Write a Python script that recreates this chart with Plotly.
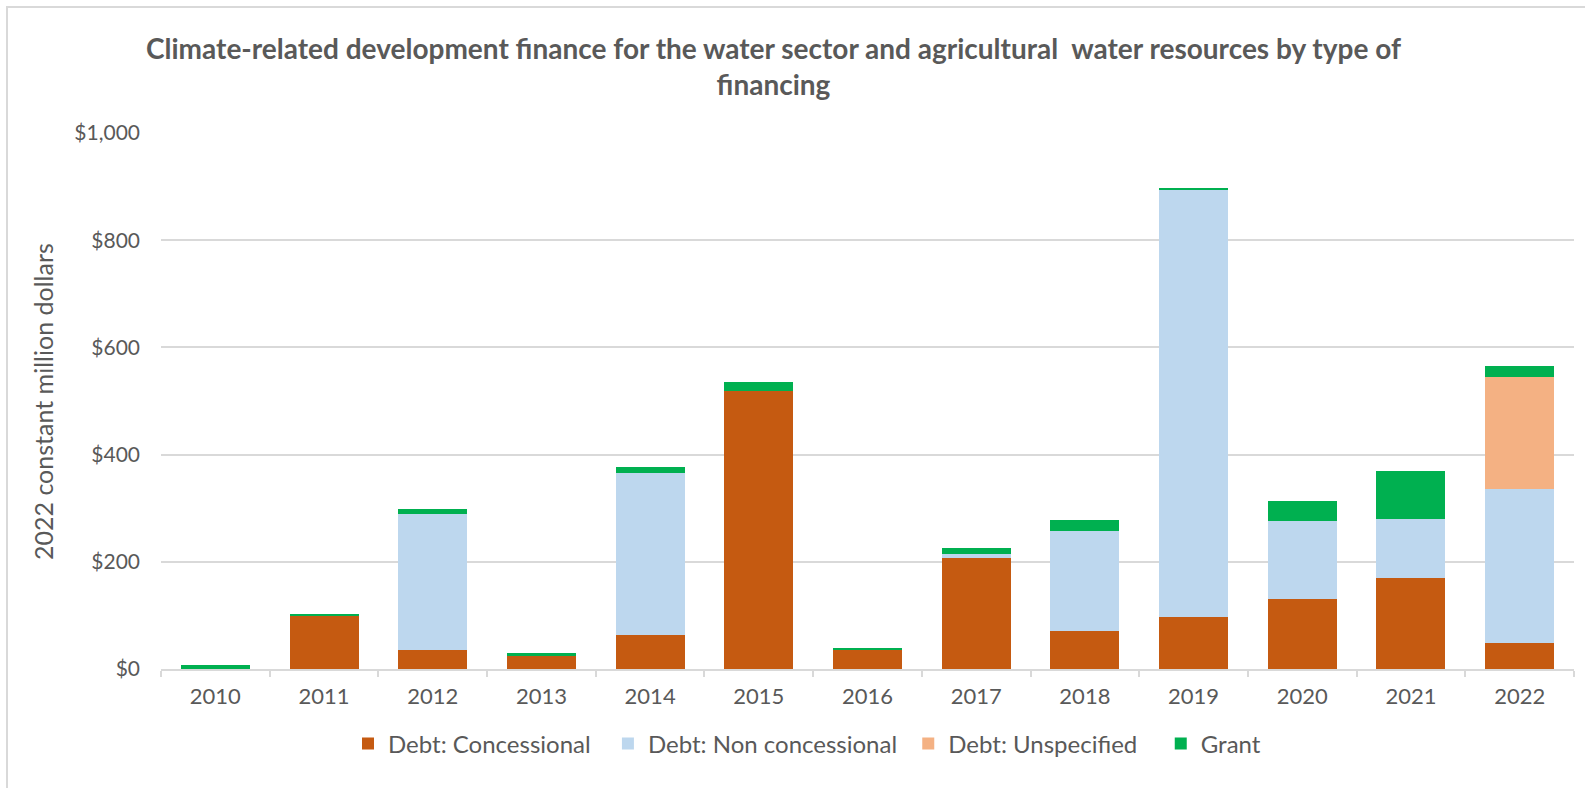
import plotly.graph_objects as go

# Years on the x axis
years = ["2010", "2011", "2012", "2013", "2014", "2015", "2016",
         "2017", "2018", "2019", "2020", "2021", "2022"]

# 2022 constant million dollars, by type of financing
debt_concessional = [0, 100, 35, 26, 64, 519, 37, 207, 71, 97, 131, 169, 49]
debt_non_concessional = [0, 0, 254, 0, 301, 0, 0, 7, 187, 797, 145, 111, 286]
debt_unspecified = [0, 0, 0, 0, 0, 0, 0, 0, 0, 0, 0, 0, 209]
grant = [8, 2, 10, 3, 12, 16, 2, 12, 20, 3, 37, 89, 22]

y_ticks = [0, 200, 400, 600, 800, 1000]
y_tick_text = ["$0", "$200", "$400", "$600", "$800", "$1,000"]

FONT = "Lato, 'Open Sans', sans-serif"
TEXT = "#595959"
GRID = "#d9d9d9"
NBSP = "\u00a0"

# (legend label, values, colour, extra spacing after the label)
series = [
    ("Debt: Concessional", debt_concessional, "#C55A11", 2),
    ("Debt: Non concessional", debt_non_concessional, "#BDD7EE", 1),
    ("Debt: Unspecified", debt_unspecified, "#F4B183", 3),
    ("Grant", grant, "#00B050", 0),
]

fig = go.Figure()
for name, values, color, pad in series:
    fig.add_trace(go.Bar(
        x=years, y=values, name=name + NBSP * pad,
        marker=dict(color=color, line=dict(width=0)),
    ))

# Plot area in pixels: x 161..1574, y 133..669
W, H = 1585, 788
L, R, T, B = 161, 11, 133, 119
pw, ph = W - L - R, H - T - B


def px_x(px):
    return (px - L) / pw


def px_y(py):
    return (H - B - py) / ph


fig.update_layout(
    width=W, height=H,
    margin=dict(l=L, r=R, t=T, b=B, pad=0, autoexpand=False),
    paper_bgcolor="white", plot_bgcolor="white",
    barmode="stack", bargap=0.365,
    font=dict(family=FONT, color=TEXT),
    title=dict(
        text="<b>Climate-related development finance for the water sector and agricultural  water resources by type of<br>financing</b>",
        x=0.488, xref="container", xanchor="center",
        y=1 - 59 / H, yref="container", yanchor="middle",
        font=dict(family=FONT, size=28, color=TEXT),
    ),
    xaxis=dict(
        type="category",
        showgrid=False,
        showline=True, linecolor=GRID, linewidth=2,
        ticks="outside", tickson="boundaries", ticklen=6, tickcolor=GRID, tickwidth=1.5,
        tickfont=dict(family=FONT, size=22, color=TEXT),
        tickangle=0,
        ticklabelstandoff=7,
    ),
    yaxis=dict(
        range=[0, 1000],
        tickvals=y_ticks, ticktext=y_tick_text,
        showgrid=True, gridcolor=GRID, gridwidth=2,
        zeroline=False, showline=False,
        tickfont=dict(family=FONT, size=21, color=TEXT),
        ticklabelstandoff=20,
    ),
    legend=dict(
        orientation="h",
        x=px_x(348), xanchor="left",
        y=px_y(744), yanchor="middle",
        font=dict(family=FONT, size=24, color=TEXT),
        itemwidth=30, traceorder="normal",
    ),
    annotations=[dict(
        text="2022 constant million dollars",
        xref="paper", yref="paper",
        x=px_x(43), y=px_y(402),
        xanchor="center", yanchor="middle",
        textangle=-90, showarrow=False,
        font=dict(family=FONT, size=25, color=TEXT),
    )],
    shapes=[dict(
        type="rect", xref="paper", yref="paper",
        x0=px_x(7), x1=px_x(1620), y0=px_y(830), y1=px_y(7),
        line=dict(color=GRID, width=2), fillcolor="rgba(0,0,0,0)",
        layer="below",
    )],
)

fig.write_html("out.html")
